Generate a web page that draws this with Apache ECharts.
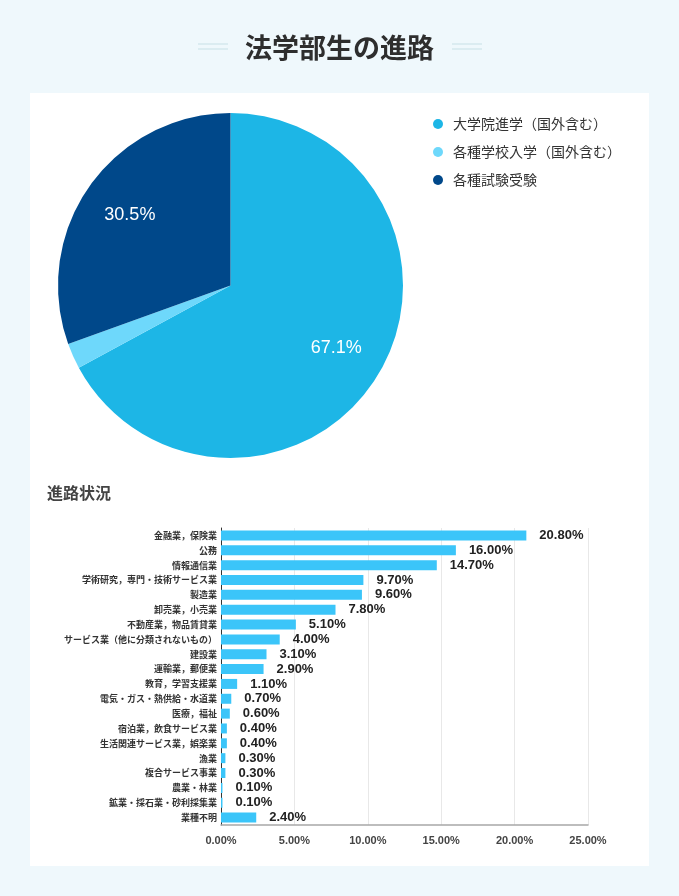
<!DOCTYPE html>
<html>
<head>
<meta charset="utf-8">
<script src="https://cdn.jsdelivr.net/npm/echarts@6/dist/echarts.min.js"></script>
<style>
  html, body { margin: 0; padding: 0; background: #eff8fc; }
  #chart { width: 679px; height: 896px; }
</style>
</head>
<body>
<div id="chart"></div>
<script>
// 進路（円グラフ）
var pieNames = ['大学院進学（国外含む）', '各種学校入学（国外含む）', '各種試験受験'];
var pieValues = [67.1, 2.4, 30.5];
var pieColors = ['#1db6e6', '#6ed8fb', '#00488a'];

// 進路状況（棒グラフ）
var industries = [
    '金融業，保険業', '公務', '情報通信業', '学術研究，専門・技術サービス業', '製造業',
    '卸売業，小売業', '不動産業，物品賃貸業', 'サービス業（他に分類されないもの）', '建設業', '運輸業，郵便業',
    '教育，学習支援業', '電気・ガス・熱供給・水道業', '医療，福祉', '宿泊業，飲食サービス業', '生活関連サービス業，娯楽業',
    '漁業', '複合サービス事業', '農業・林業', '鉱業・採石業・砂利採集業', '業種不明'
];
var industryValues = [20.8, 16.0, 14.7, 9.7, 9.6, 7.8, 5.1, 4.0, 3.1, 2.9,
    1.1, 0.7, 0.6, 0.4, 0.4, 0.3, 0.3, 0.1, 0.1, 2.4];
var xTicks = [0, 5, 10, 15, 20, 25];

var FONT = "'Liberation Sans', 'Noto Sans CJK JP', sans-serif";
var CJK = "'Noto Sans CJK JP', sans-serif";

var pieData = [];
for (var i = 0; i < pieNames.length; i++) {
    pieData.push({ name: pieNames[i], value: pieValues[i], itemStyle: { color: pieColors[i] } });
}
var labelData = [];
for (var i = 0; i < pieNames.length; i++) {
    labelData.push({ name: pieNames[i], value: pieValues[i], itemStyle: { color: 'rgba(0,0,0,0)' } });
}
var legendData = [];
for (var i = 0; i < pieNames.length; i++) {
    legendData.push({ name: pieNames[i], itemStyle: { color: pieColors[i] } });
}

var myChart = echarts.init(document.getElementById('chart'));
var option = {
    backgroundColor: '#eff8fc',
    animation: false,
    textStyle: { fontFamily: FONT },
    graphic: [
        // 白いパネル
        { type: 'rect', z: -10, shape: { x: 30, y: 93, width: 619, height: 773 }, style: { fill: '#ffffff' } },
        // タイトル両脇の飾り線
        { type: 'rect', z: -10, shape: { x: 198, y: 43, width: 30, height: 2 }, style: { fill: '#dbecf1' } },
        { type: 'rect', z: -10, shape: { x: 198, y: 48, width: 30, height: 2 }, style: { fill: '#dbecf1' } },
        { type: 'rect', z: -10, shape: { x: 452, y: 43, width: 30, height: 2 }, style: { fill: '#dbecf1' } },
        { type: 'rect', z: -10, shape: { x: 452, y: 48, width: 30, height: 2 }, style: { fill: '#dbecf1' } }
    ],
    title: [
        {
            text: '法学部生の進路',
            left: 'center',
            top: 29,
            textStyle: { fontFamily: CJK, fontSize: 27, fontWeight: 'bold', color: '#2e2e2e' }
        },
        {
            text: '進路状況',
            left: 42,
            top: 480,
            textStyle: { fontFamily: CJK, fontSize: 16, fontWeight: 'bold', color: '#444' }
        }
    ],
    legend: {
        orient: 'vertical',
        left: 428,
        top: 111,
        icon: 'circle',
        itemWidth: 20,
        itemHeight: 10,
        itemGap: 12,
        data: legendData,
        textStyle: { fontFamily: CJK, fontSize: 14, color: '#333', lineHeight: 16 }
    },
    grid: { left: 221, right: 91, top: 528, bottom: 71 },
    xAxis: {
        type: 'value',
        min: xTicks[0],
        max: xTicks[xTicks.length - 1],
        interval: xTicks[1] - xTicks[0],
        axisLine: { show: true, lineStyle: { color: '#a8a8a8', width: 1.5 } },
        axisTick: { show: false },
        splitLine: { lineStyle: { color: '#e8e8e8' } },
        axisLabel: {
            margin: 10,
            fontSize: 11,
            fontWeight: 'bold',
            color: '#444',
            formatter: function (v) { return v.toFixed(2) + '%'; }
        }
    },
    yAxis: {
        type: 'category',
        inverse: true,
        data: industries,
        axisLine: { show: true, lineStyle: { color: '#333', width: 1 } },
        axisTick: { show: false },
        axisLabel: { margin: 4, fontSize: 9, fontWeight: 'bold', color: '#333', fontFamily: CJK }
    },
    series: [
        {
            type: 'pie',
            center: [230.5, 285.5],
            radius: [0, 172.5],
            startAngle: 90,
            data: pieData,
            label: { show: false },
            labelLine: { show: false },
            emphasis: { disabled: true }
        },
        {
            // ラベル位置用（透明）
            type: 'pie',
            center: [230.5, 285.5],
            radius: [0, 240],
            startAngle: 90,
            silent: true,
            data: labelData,
            label: {
                show: true,
                position: 'inside',
                fontSize: 18,
                color: '#ffffff',
                fontFamily: "'Liberation Sans', sans-serif",
                formatter: function (p) { return p.value < 5 ? '' : p.value.toFixed(1) + '%'; }
            },
            labelLine: { show: false },
            emphasis: { disabled: true }
        },
        {
            type: 'bar',
            data: industryValues,
            barWidth: 10,
            itemStyle: { color: '#3bc5f9' },
            label: {
                show: true,
                position: 'right',
                distance: 13,
                fontSize: 13,
                fontWeight: 'bold',
                color: '#222',
                fontFamily: "'Liberation Sans', sans-serif",
                formatter: function (p) { return p.value.toFixed(2) + '%'; }
            },
            emphasis: { disabled: true }
        }
    ]
};
myChart.setOption(option);
</script>
</body>
</html>
